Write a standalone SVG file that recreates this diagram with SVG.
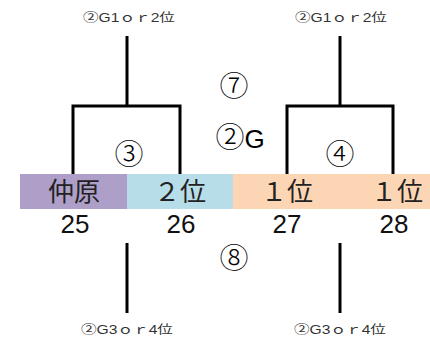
<svg xmlns="http://www.w3.org/2000/svg" width="430" height="340" viewBox="0 0 430 340">
<style>
.ln{stroke:#000;stroke-width:3;fill:none;stroke-linecap:butt}
.t{font-family:"Liberation Sans","Noto Sans CJK JP",sans-serif;fill:#000;text-anchor:middle}
.lab{font-size:12px;fill:#333}
.big{font-size:26px;fill:#222}
.num{font-size:26px;fill:#111}
.circ{font-size:29px;font-family:"Noto Sans CJK JP",sans-serif;fill:#000;text-anchor:middle;font-weight:300}
</style>
<rect width="430" height="340" fill="#fff"/>
<g id="slots">
<rect x="20" y="174" width="107" height="35" fill="#ae9fc9"/>
<rect x="127" y="174" width="106" height="35" fill="#b7dde8"/>
<rect x="233" y="174" width="197" height="35" fill="#fcd5b4"/>
<text class="t big" x="74" y="201">仲原</text>
<text class="t big" x="180" y="201">２位</text>
<text class="t big" x="287" y="201">１位</text>
<text class="t big" x="397" y="201">１位</text>
<text class="t num" x="75" y="233">25</text>
<text class="t num" x="181" y="233">26</text>
<text class="t num" x="287" y="233">27</text>
<text class="t num" x="394" y="233">28</text>
</g>
<g id="connectors">
<path class="ln" d="M127 36V106M73 174V106H180V174"/>
<path class="ln" d="M340 36V106M287 174V106H393V174"/>
<path class="ln" d="M127 243V313"/>
<path class="ln" d="M340 243V313"/>
</g>
<g id="labels">
<text class="t lab" x="129" y="22" textLength="92" lengthAdjust="spacingAndGlyphs">②G1ｏｒ2位</text>
<text class="t lab" x="341" y="22" textLength="92" lengthAdjust="spacingAndGlyphs">②G1ｏｒ2位</text>
<text class="t lab" x="127" y="334" textLength="92" lengthAdjust="spacingAndGlyphs">②G3ｏｒ4位</text>
<text class="t lab" x="340" y="334" textLength="92" lengthAdjust="spacingAndGlyphs">②G3ｏｒ4位</text>
<text class="circ" x="234" y="97">⑦</text>
<text class="circ" x="240" y="148">②<tspan font-family="Liberation Sans" font-size="26" font-weight="400">G</tspan></text>
<text class="circ" x="129" y="165">③</text>
<text class="circ" x="340" y="165">④</text>
<text class="circ" x="234" y="269">⑧</text>
</g>
</svg>
